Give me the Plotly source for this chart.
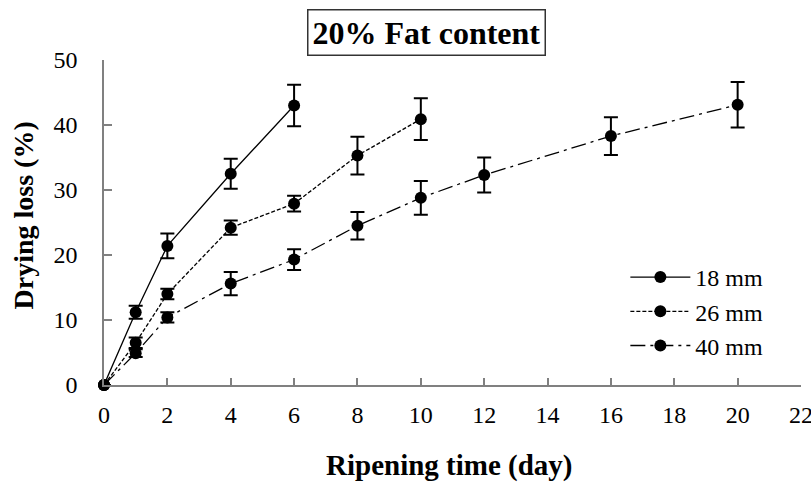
import plotly.graph_objects as go

series_names = ["18 mm", "26 mm", "40 mm"]

days_18 = [0, 1, 2, 4, 6]
loss_18 = [0, 11.2, 21.4, 32.5, 43.0]
err_18 = [0, 1.0, 1.9, 2.3, 3.2]

days_26 = [0, 1, 2, 4, 6, 8, 10]
loss_26 = [0, 6.5, 14.0, 24.2, 27.9, 35.3, 40.9]
err_26 = [0, 0.8, 0.8, 1.1, 1.2, 2.9, 3.2]

days_40 = [0, 1, 2, 4, 6, 8, 10, 12, 16, 20]
loss_40 = [0, 4.9, 10.4, 15.6, 19.3, 24.5, 28.8, 32.3, 38.3, 43.1]
err_40 = [0, 0.6, 0.8, 1.8, 1.6, 2.1, 2.6, 2.7, 2.9, 3.5]

x_ticks = list(range(0, 23, 2))
y_ticks = [0, 10, 20, 30, 40, 50]

FONT = "'Liberation Serif', 'Times New Roman', serif"
dashes = ["solid", "4px,2px", "15px,5px,3px,5px"]

fig = go.Figure()
for name, xs, ys, es, dash in zip(series_names,
                                  [days_18, days_26, days_40],
                                  [loss_18, loss_26, loss_40],
                                  [err_18, err_26, err_40],
                                  dashes):
    fig.add_trace(go.Scatter(
        x=xs, y=ys, name=name, mode="lines+markers",
        line=dict(color="black", width=1.3, dash=dash),
        marker=dict(color="black", size=12, symbol="circle"),
        error_y=dict(type="data", array=es, visible=True, color="black",
                     thickness=2, width=7),
        cliponaxis=False,
    ))

fig.update_layout(
    width=811, height=489,
    margin=dict(l=104, r=10, t=60, b=104),
    paper_bgcolor="white", plot_bgcolor="white",
    font=dict(family=FONT, color="black", size=24),
    showlegend=True,
    legend=dict(x=0.748, y=0.40, xanchor="left", yanchor="top",
                bgcolor="rgba(0,0,0,0)", font=dict(size=24, family=FONT),
                itemwidth=60, tracegroupgap=0),
    xaxis=dict(range=[0, 22], tickvals=x_ticks, ticktext=[str(v) for v in x_ticks],
               showline=True, linecolor="#808080", linewidth=1.5,
               ticks="inside", ticklen=7, tickcolor="#808080", tickwidth=1.5,
               showgrid=False, zeroline=False, ticklabeloverflow="allow",
               automargin=False,
               tickfont=dict(size=24, family=FONT), ticklabelstandoff=7),
    yaxis=dict(range=[0, 50], tickvals=y_ticks, ticktext=[str(v) for v in y_ticks],
               showline=True, linecolor="#808080", linewidth=1.5,
               ticks="inside", ticklen=8, tickcolor="#808080", tickwidth=1.5,
               showgrid=False, zeroline=False, automargin=False,
               tickfont=dict(size=24, family=FONT), ticklabelstandoff=20),
    annotations=[
        dict(text="<b>20% Fat content</b>", x=0.4627, y=1.086, xref="paper", yref="paper",
             xanchor="center", yanchor="middle", showarrow=False,
             font=dict(size=32, family=FONT), bordercolor="#333333", borderwidth=1.5,
             borderpad=4, bgcolor="white"),
        dict(text="<b>Drying loss (%)</b>", x=-0.116, y=0.522, xref="paper", yref="paper",
             xanchor="center", yanchor="middle", showarrow=False, textangle=-90,
             font=dict(size=28, family=FONT)),
        dict(text="<b>Ripening time (day)</b>", x=0.495, y=-0.249, xref="paper", yref="paper",
             xanchor="center", yanchor="middle", showarrow=False,
             font=dict(size=29, family=FONT)),
    ],
)

fig.write_html("out.html", config={"displayModeBar": False},
               post_script="document.body.style.margin='0';")
